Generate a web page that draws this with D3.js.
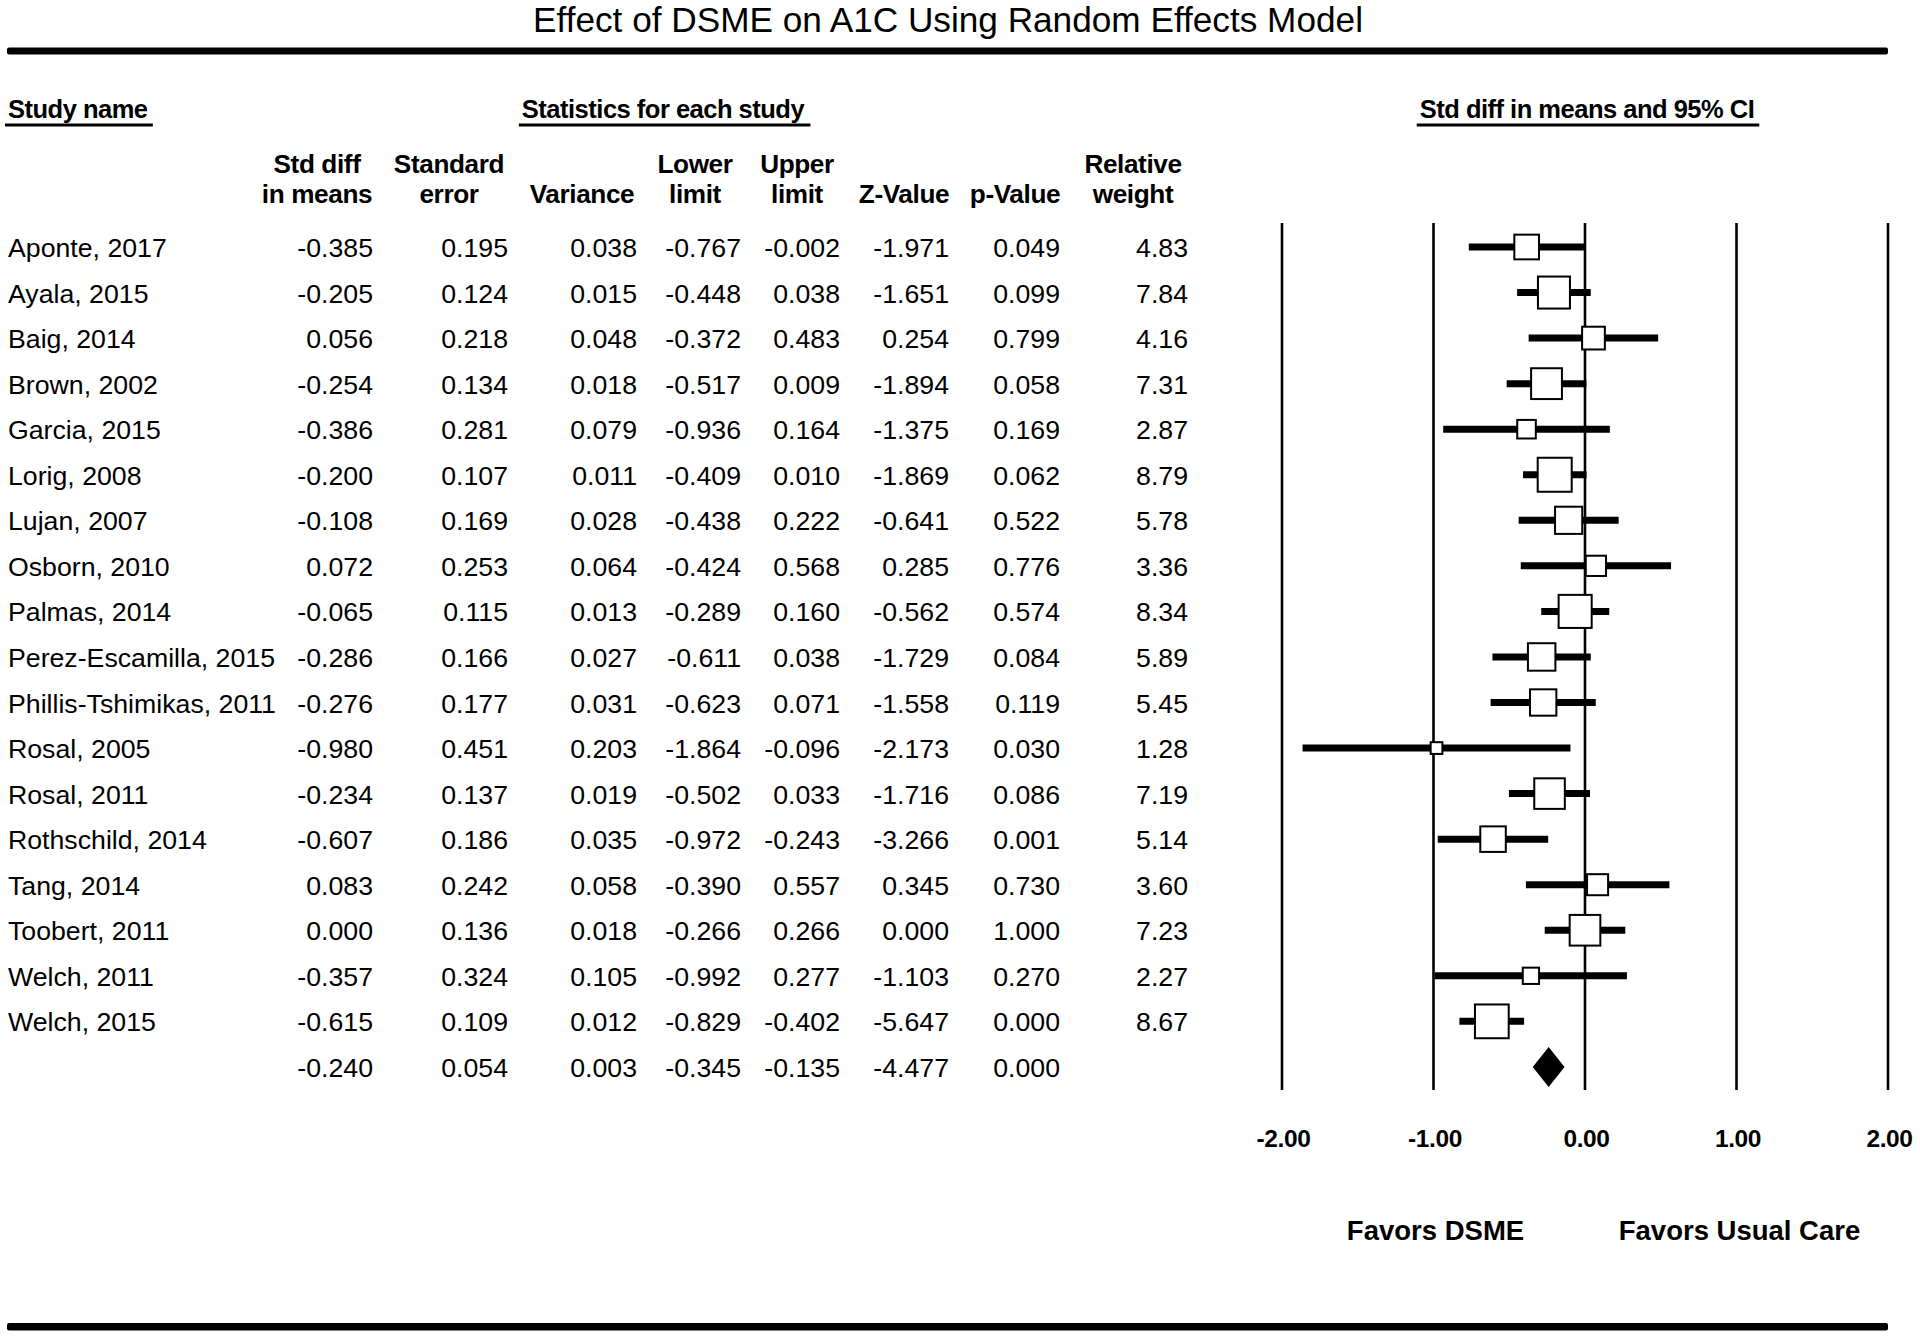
<!DOCTYPE html>
<html>
<head>
<meta charset="utf-8">
<script src="https://cdn.jsdelivr.net/npm/d3@7"></script>
<style>
  html, body { margin: 0; padding: 0; background: #fff; }
  svg { display: block; }
  text { font-family: "Liberation Sans", Arial, Helvetica, sans-serif; fill: #000; }
</style>
</head>
<body>
<svg id="chart" width="1920" height="1339"></svg>
<script>
// ---------------- DATA ----------------
const studies = ["Aponte, 2017","Ayala, 2015","Baig, 2014","Brown, 2002","Garcia, 2015","Lorig, 2008","Lujan, 2007","Osborn, 2010","Palmas, 2014","Perez-Escamilla, 2015","Phillis-Tshimikas, 2011","Rosal, 2005","Rosal, 2011","Rothschild, 2014","Tang, 2014","Toobert, 2011","Welch, 2011","Welch, 2015"];
const stdDiff    = [-0.385,-0.205,0.056,-0.254,-0.386,-0.200,-0.108,0.072,-0.065,-0.286,-0.276,-0.980,-0.234,-0.607,0.083,0.000,-0.357,-0.615];
const stdErr     = [0.195,0.124,0.218,0.134,0.281,0.107,0.169,0.253,0.115,0.166,0.177,0.451,0.137,0.186,0.242,0.136,0.324,0.109];
const variance   = [0.038,0.015,0.048,0.018,0.079,0.011,0.028,0.064,0.013,0.027,0.031,0.203,0.019,0.035,0.058,0.018,0.105,0.012];
const lowerLimit = [-0.767,-0.448,-0.372,-0.517,-0.936,-0.409,-0.438,-0.424,-0.289,-0.611,-0.623,-1.864,-0.502,-0.972,-0.390,-0.266,-0.992,-0.829];
const upperLimit = [-0.002,0.038,0.483,0.009,0.164,0.010,0.222,0.568,0.160,0.038,0.071,-0.096,0.033,-0.243,0.557,0.266,0.277,-0.402];
const zValue     = [-1.971,-1.651,0.254,-1.894,-1.375,-1.869,-0.641,0.285,-0.562,-1.729,-1.558,-2.173,-1.716,-3.266,0.345,0.000,-1.103,-5.647];
const pValue     = [0.049,0.099,0.799,0.058,0.169,0.062,0.522,0.776,0.574,0.084,0.119,0.030,0.086,0.001,0.730,1.000,0.270,0.000];
const relWeight  = [4.83,7.84,4.16,7.31,2.87,8.79,5.78,3.36,8.34,5.89,5.45,1.28,7.19,5.14,3.60,7.23,2.27,8.67];
// summary (random effects): std diff, std err, variance, lower, upper, z, p
const summaryStats = [-0.240,0.054,0.003,-0.345,-0.135,-4.477,0.000];
const xTicks = [-2,-1,0,1,2];
const titleText = "Effect of DSME on A1C Using Random Effects Model";

// ---------------- SETUP ----------------
const svg = d3.select("#chart");
const loc = d3.formatLocale({decimal: ".", thousands: ",", grouping: [3], currency: ["$", ""], minus: "-"});
const f3 = loc.format(".3f"), f2 = loc.format(".2f");

const nRows = studies.length + 1; // + summary
const y = d3.scaleLinear().domain([0, nRows - 1]).range([247, 247 + (nRows - 1) * 45.55]);
const x = d3.scaleLinear().domain([-2, 2]).range([1282, 1888]);
const boxSize = d3.scaleSqrt().domain([0, d3.max(relWeight)]).range([0, 36]);

// Title
svg.append("text").attr("x", 948).attr("y", 32).attr("text-anchor", "middle")
  .attr("font-size", 35.2).text(titleText);

// Thick rules
svg.append("rect").attr("x", 7).attr("y", 47.5).attr("width", 1881).attr("height", 7).attr("rx", 2);
svg.append("rect").attr("x", 7).attr("y", 1323).attr("width", 1881).attr("height", 7.5).attr("rx", 2);

// Section headers with underline
function underlinedHeader(txt, xx, anchor) {
  const t = svg.append("text").attr("x", xx).attr("y", 118).attr("text-anchor", anchor)
    .attr("font-size", 25.5).attr("font-weight", "bold").attr("letter-spacing", -0.5).text(txt);
  const bb = t.node().getBBox();
  svg.append("rect").attr("x", bb.x - 3).attr("y", 123.5).attr("width", bb.width + 8).attr("height", 3);
}
underlinedHeader("Study name", 8, "start");
underlinedHeader("Statistics for each study", 663, "middle");
underlinedHeader("Std diff in means and 95% CI", 1587, "middle");

// Columns
const columns = [
  {h: ["Std diff", "in means"], c: 317, r: 373, vals: stdDiff, fmt: f3, s: summaryStats[0]},
  {h: ["Standard", "error"],    c: 449, r: 508, vals: stdErr, fmt: f3, s: summaryStats[1]},
  {h: ["", "Variance"],         c: 582, r: 637, vals: variance, fmt: f3, s: summaryStats[2]},
  {h: ["Lower", "limit"],       c: 695, r: 741, vals: lowerLimit, fmt: f3, s: summaryStats[3]},
  {h: ["Upper", "limit"],       c: 797, r: 840, vals: upperLimit, fmt: f3, s: summaryStats[4]},
  {h: ["", "Z-Value"],          c: 904, r: 949, vals: zValue, fmt: f3, s: summaryStats[5]},
  {h: ["", "p-Value"],          c: 1015, r: 1060, vals: pValue, fmt: f3, s: summaryStats[6]},
  {h: ["Relative", "weight"],   c: 1133, r: 1188, vals: relWeight, fmt: f2, s: null}
];

const hdr = svg.append("g").attr("font-size", 26.2).attr("font-weight", "bold").attr("text-anchor", "middle");
columns.forEach(col => {
  col.h.forEach((line, i) => {
    if (!line) return;
    hdr.append("text").attr("x", col.c).attr("y", i === 0 ? 173 : 203)
      .attr("letter-spacing", -0.4).text(line);
  });
});

// Study names
const body = svg.append("g").attr("font-size", 26.7);
body.selectAll("text.name").data(studies).join("text").attr("class", "name")
  .attr("x", 8).attr("y", (d, i) => y(i) + 10).text(d => d);

// Values
columns.forEach(col => {
  const vals = col.s === null ? col.vals : col.vals.concat([col.s]);
  body.append("g").attr("text-anchor", "end").selectAll("text").data(vals).join("text")
    .attr("x", col.r).attr("y", (d, i) => y(i) + 10).text(d => col.fmt(d));
});

// ---------------- FOREST PLOT ----------------
const plot = svg.append("g");
// reference vertical lines
plot.selectAll("line.ref").data(xTicks).join("line").attr("class", "ref")
  .attr("x1", d => x(d)).attr("x2", d => x(d)).attr("y1", 223).attr("y2", 1090)
  .attr("stroke", "#000").attr("stroke-width", 2.6);

// CI lines
plot.selectAll("line.ci").data(studies).join("line").attr("class", "ci")
  .attr("x1", (d, i) => x(lowerLimit[i])).attr("x2", (d, i) => x(upperLimit[i]))
  .attr("y1", (d, i) => y(i)).attr("y2", (d, i) => y(i))
  .attr("stroke", "#000").attr("stroke-width", 7);

// Boxes
plot.selectAll("rect.box").data(studies).join("rect").attr("class", "box")
  .attr("x", (d, i) => x(stdDiff[i]) - boxSize(relWeight[i]) / 2 + 1)
  .attr("y", (d, i) => y(i) - boxSize(relWeight[i]) / 2 + 1)
  .attr("width", (d, i) => boxSize(relWeight[i]) - 2)
  .attr("height", (d, i) => boxSize(relWeight[i]) - 2)
  .attr("fill", "#fff").attr("stroke", "#000").attr("stroke-width", 2);

// Summary diamond
const sy = y(nRows - 1);
plot.append("path")
  .attr("d", `M${x(summaryStats[3])},${sy} L${x(summaryStats[0])},${sy - 20} L${x(summaryStats[4])},${sy} L${x(summaryStats[0])},${sy + 20} Z`)
  .attr("fill", "#000");

// Axis labels
const axis = d3.axisBottom(x).tickValues(xTicks).tickSize(0).tickPadding(0).tickFormat(f2);
const axG = svg.append("g").attr("transform", "translate(1,1129)").call(axis);
axG.select(".domain").remove();
axG.selectAll("text").attr("font-size", 24.5).attr("font-weight", "bold")
  .attr("font-family", "Liberation Sans, Arial, sans-serif").attr("fill", "#000")
  .attr("letter-spacing", -0.4).attr("dy", "0.75em");

// Favors labels
svg.append("text").attr("x", x(-1) + 2).attr("y", 1240).attr("text-anchor", "middle")
  .attr("font-size", 27.5).attr("font-weight", "bold").text("Favors DSME");
svg.append("text").attr("x", x(1) + 3).attr("y", 1240).attr("text-anchor", "middle")
  .attr("font-size", 27.5).attr("font-weight", "bold").text("Favors Usual Care");
</script>
</body>
</html>
